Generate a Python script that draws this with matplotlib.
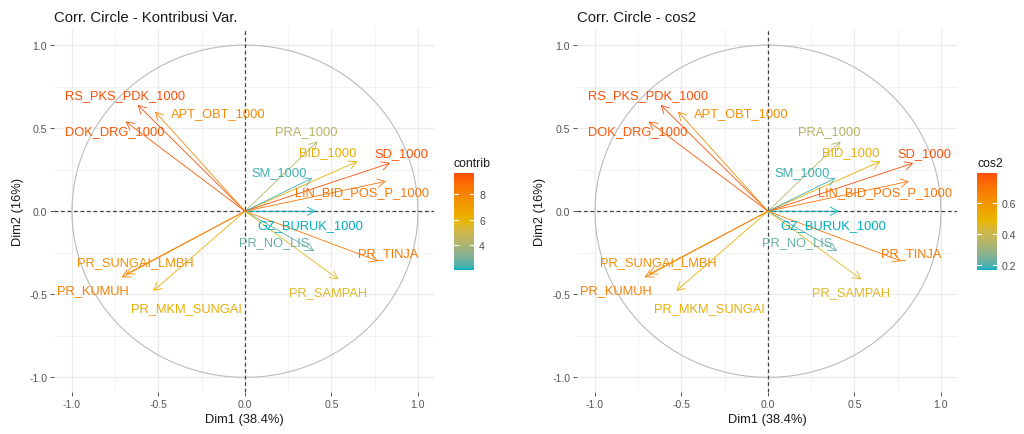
import numpy as np
import matplotlib
matplotlib.use("Agg")
import matplotlib.pyplot as plt
from matplotlib.colors import ListedColormap, Normalize, to_rgb
from matplotlib.cm import ScalarMappable
from matplotlib.ticker import FixedLocator

plt.rcParams['font.family'] = ['Liberation Sans', 'DejaVu Sans']

# ---------------- data ----------------
variables = ["RS_PKS_PDK_1000", "APT_OBT_1000", "DOK_DRG_1000", "PRA_1000",
             "BID_1000", "SD_1000", "SM_1000", "LIN_BID_POS_P_1000",
             "GZ_BURUK_1000", "PR_NO_LIS", "PR_TINJA", "PR_SAMPAH",
             "PR_SUNGAI_LMBH", "PR_KUMUH", "PR_MKM_SUNGAI"]
dim1 = [-0.62, -0.52, -0.69, 0.42, 0.65, 0.84, 0.39, 0.815,
        0.41, 0.40, 0.77, 0.54, -0.69, -0.713, -0.53]
dim2 = [0.64, 0.60, 0.54, 0.42, 0.30, 0.29, 0.20, 0.18,
        0.00, -0.24, -0.30, -0.41, -0.38, -0.398, -0.48]
contrib = [9.65, 7.7, 9.4, 4.3, 6.3, 9.6, 2.3, 8.5,
           2.05, 2.7, 8.4, 5.6, 7.6, 8.2, 6.3]
cos2 = [0.79, 0.63, 0.77, 0.35, 0.51, 0.79, 0.19, 0.70,
        0.17, 0.22, 0.68, 0.46, 0.62, 0.67, 0.51]

axis_ticks = [-1.0, -0.5, 0.0, 0.5, 1.0]
minor_ticks = [-0.75, -0.25, 0.25, 0.75]
contrib_ticks = [4, 6, 8]
cos2_ticks = [0.2, 0.4, 0.6]
xlabel = "Dim1 (38.4%)"
ylabel = "Dim2 (16%)"
gradient_cols = ["#00AFBB", "#E7B800", "#FC4E07"]

# ---------------- layout (label offsets, data units) ----------------
label_offsets = {
    "RS_PKS_PDK_1000": (-0.074, 0.059),
    "APT_OBT_1000": (0.364, -0.012),
    "DOK_DRG_1000": (-0.064, -0.060),
    "PRA_1000": (-0.067, 0.060),
    "BID_1000": (-0.170, 0.055),
    "SD_1000": (0.065, 0.060),
    "SM_1000": (-0.190, 0.035),
    "LIN_BID_POS_P_1000": (-0.140, -0.066),
    "GZ_BURUK_1000": (-0.030, -0.084),
    "PR_NO_LIS": (-0.230, 0.053),
    "PR_TINJA": (0.060, 0.047),
    "PR_SAMPAH": (-0.060, -0.078),
    "PR_SUNGAI_LMBH": (0.054, 0.075),
    "PR_KUMUH": (-0.167, -0.078),
    "PR_MKM_SUNGAI": (0.192, -0.104),
}


# ---- CIELAB interpolation (like ggplot2's gradientn) ----
def _srgb_to_lab(rgb):
    rgb = np.asarray(rgb, float)
    lin = np.where(rgb <= 0.04045, rgb / 12.92, ((rgb + 0.055) / 1.055) ** 2.4)
    M = np.array([[0.4124, 0.3576, 0.1805],
                  [0.2126, 0.7152, 0.0722],
                  [0.0193, 0.1192, 0.9505]])
    xyz = M @ lin / np.array([0.95047, 1.0, 1.08883])
    f = np.where(xyz > 0.008856, np.cbrt(xyz), 7.787 * xyz + 16 / 116)
    return np.array([116 * f[1] - 16, 500 * (f[0] - f[1]), 200 * (f[1] - f[2])])


def _lab_to_srgb(lab):
    L, a, b = lab
    fy = (L + 16) / 116
    fx = fy + a / 500
    fz = fy - b / 200
    f = np.array([fx, fy, fz])
    xyz = np.where(f ** 3 > 0.008856, f ** 3, (f - 16 / 116) / 7.787)
    xyz = xyz * np.array([0.95047, 1.0, 1.08883])
    Minv = np.array([[3.2406, -1.5372, -0.4986],
                     [-0.9689, 1.8758, 0.0415],
                     [0.0557, -0.2040, 1.0570]])
    lin = Minv @ xyz
    lin = np.clip(lin, 0, 1)
    rgb = np.where(lin <= 0.0031308, 12.92 * lin, 1.055 * lin ** (1 / 2.4) - 0.055)
    return np.clip(rgb, 0, 1)


_labs = [_srgb_to_lab(to_rgb(c)) for c in gradient_cols]
_ramp = []
for t in np.linspace(0, 1, 256):
    seg = min(int(t * 2), 1)
    u = t * 2 - seg
    _ramp.append(_lab_to_srgb(_labs[seg] * (1 - u) + _labs[seg + 1] * u))
cmap = ListedColormap(_ramp)

W, H = 1024, 435
fig = plt.figure(figsize=(W / 100, H / 100), dpi=100)

XLIM = (-1.104, 1.093)
YLIM = (-1.09, 1.097)


def panel(left_px, cb_left_px, values, title, legend_title, cb_ticks):
    ax = fig.add_axes([left_px / W, (H - 393.3) / H, 380 / W, 363.3 / H])
    ax.set_xlim(*XLIM)
    ax.set_ylim(*YLIM)
    for s in ax.spines.values():
        s.set_visible(False)
    ax.xaxis.set_major_locator(FixedLocator(axis_ticks))
    ax.yaxis.set_major_locator(FixedLocator(axis_ticks))
    ax.xaxis.set_minor_locator(FixedLocator(minor_ticks))
    ax.yaxis.set_minor_locator(FixedLocator(minor_ticks))
    ax.set_xticklabels([f"{t:.1f}" for t in axis_ticks])
    ax.set_yticklabels([f"{t:.1f}" for t in axis_ticks])
    ax.tick_params(which="major", length=3, width=0.7, color="#555555",
                   labelsize=7.6, labelcolor="#555555", pad=2)
    ax.tick_params(which="minor", length=0)
    ax.grid(which="major", color="#EBEBEB", lw=0.9, zorder=0)
    ax.grid(which="minor", color="#F0F0F0", lw=0.6, zorder=0)
    ax.set_axisbelow(True)

    ax.set_title(title, loc="left", fontsize=10.7, color="#1A1A1A", pad=6)
    ax.set_xlabel(xlabel, fontsize=9.3, color="#1A1A1A", labelpad=3)
    ax.set_ylabel(ylabel, fontsize=9.3, color="#1A1A1A", labelpad=4)

    th = np.linspace(0, 2 * np.pi, 400)
    ax.plot(np.cos(th), np.sin(th), color="#BBBBBB", lw=0.8, zorder=1)
    ax.axhline(0, color="#444444", lw=0.9, ls=(0, (3, 2.2)), zorder=1.5)
    ax.axvline(0, color="#444444", lw=0.9, ls=(0, (3, 2.2)), zorder=1.5)

    norm = Normalize(min(values), max(values))
    for name, x, y, v in zip(variables, dim1, dim2, values):
        c = cmap(norm(v))
        ax.annotate("", xy=(x, y), xytext=(0, 0),
                    arrowprops=dict(arrowstyle="->,head_length=0.55,head_width=0.3",
                                    color=c, lw=0.6, shrinkA=0, shrinkB=0,
                                    mutation_scale=10), zorder=3)
        dx, dy = label_offsets[name]
        ax.text(x + dx, y + dy, name, color=c, fontsize=9.3,
                ha="center", va="center", zorder=4)

    cax = fig.add_axes([cb_left_px / W, (H - 271) / H, 19.5 / W, 97 / H])
    sm = ScalarMappable(norm=norm, cmap=cmap)
    cb = fig.colorbar(sm, cax=cax)
    cb.outline.set_visible(False)
    cb.set_ticks(cb_ticks)
    cb.set_ticklabels([f"{t:g}" for t in cb_ticks])
    cax.tick_params(length=0, labelsize=7.6, labelcolor="#4D4D4D", pad=4)
    tr = cax.get_yaxis_transform()
    for t in cb_ticks:
        cax.plot([0, 0.2], [t, t], color="white", lw=0.8, transform=tr)
        cax.plot([0.8, 1], [t, t], color="white", lw=0.8, transform=tr)
    cax.set_title(legend_title, loc="left", fontsize=8.8, color="#1A1A1A", pad=5)
    return ax


panel(54, 454, contrib, "Corr. Circle - Kontribusi Var.", "contrib", contrib_ticks)
panel(577, 977, cos2, "Corr. Circle - cos2", "cos2", cos2_ticks)

fig.savefig("out.png", dpi=100)
